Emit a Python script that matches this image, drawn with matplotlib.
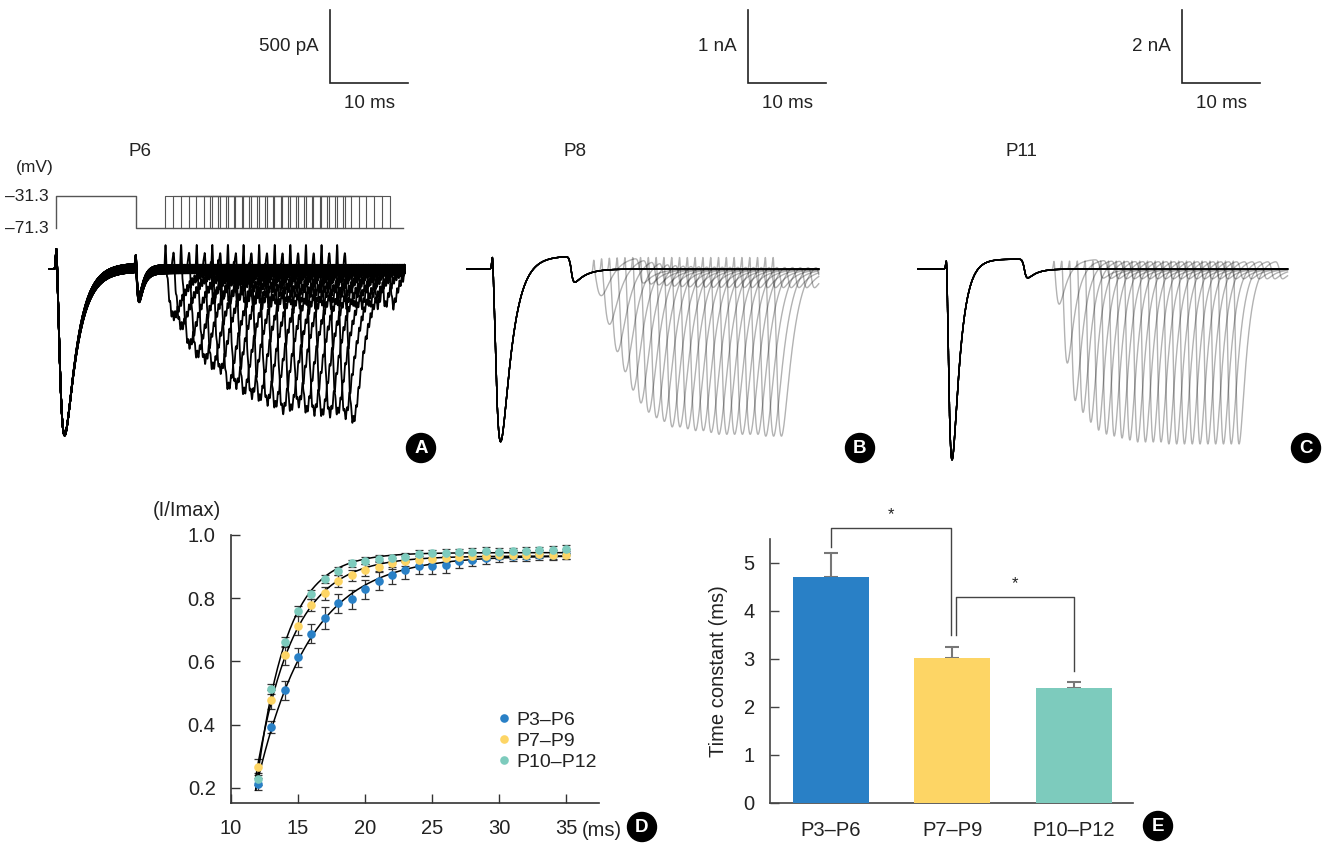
import numpy as np
import matplotlib
matplotlib.use("Agg")
import matplotlib.pyplot as plt
from matplotlib.patches import Circle
from matplotlib.lines import Line2D

plt.rcParams['font.family'] = ['Liberation Sans', 'DejaVu Sans']

# ---------------- data ----------------
ages = ['P3–P6', 'P7–P9', 'P10–P12']
age_colors = ['#2980C6', '#FDD565', '#7DCBBD']

# panel D: recovery (I/Imax) vs interval
intervals = [12, 13, 14, 15, 16, 17, 18, 19, 20, 21, 22, 23,
             24, 25, 26, 27, 28, 29, 30, 31, 32, 33, 34, 35]
rec_p3p6 = [0.212, 0.393, 0.509, 0.613, 0.687, 0.738, 0.784, 0.797, 0.829, 0.855, 0.872, 0.889,
            0.901, 0.901, 0.905, 0.918, 0.922, 0.928, 0.932, 0.935, 0.935, 0.937, 0.938, 0.940]
rec_p7p9 = [0.267, 0.478, 0.619, 0.713, 0.779, 0.815, 0.855, 0.872, 0.889, 0.900, 0.910, 0.918,
            0.920, 0.925, 0.928, 0.930, 0.932, 0.935, 0.937, 0.938, 0.938, 0.939, 0.938, 0.936]
rec_p10p12 = [0.228, 0.512, 0.662, 0.759, 0.812, 0.861, 0.887, 0.910, 0.919, 0.925, 0.926, 0.931,
              0.939, 0.942, 0.944, 0.945, 0.946, 0.949, 0.946, 0.948, 0.949, 0.951, 0.954, 0.955]
err_p3p6 = [0.020, 0.020, 0.030, 0.030, 0.030, 0.035, 0.030, 0.030, 0.030, 0.030, 0.027, 0.027,
            0.025, 0.025, 0.025, 0.022, 0.020, 0.020, 0.018, 0.017, 0.017, 0.016, 0.016, 0.016]
err_p7p9 = [0.025, 0.030, 0.030, 0.030, 0.020, 0.020, 0.018, 0.018, 0.018, 0.017, 0.016, 0.016,
            0.015, 0.015, 0.015, 0.014, 0.014, 0.014, 0.013, 0.013, 0.013, 0.013, 0.013, 0.013]
err_p10p12 = [0.020, 0.015, 0.015, 0.015, 0.015, 0.012, 0.012, 0.012, 0.012, 0.012, 0.012, 0.012,
              0.012, 0.012, 0.012, 0.012, 0.012, 0.012, 0.012, 0.012, 0.012, 0.012, 0.012, 0.012]

# panel E: time constants
tau_mean = [4.69, 3.01, 2.39]
tau_sem = [0.50, 0.23, 0.12]
sig_pairs = [(0, 1), (1, 2)]

# panels A-C: traces
trace_titles = ['P6', 'P8', 'P11']
first_peak_pA = [1150, 2530, 5420]
scale_pA = [500, 1000, 2000]
scale_labels = ['500 pA', '1 nA', '2 nA']
scale_ms = 10
protocol_mV = [-71.3, -31.3]
# second-response amplitude relative to first response, one per sweep (24 sweeps, 1-ms steps)
second_A = [0.29, 0.35, 0.46, 0.52, 0.55, 0.59, 0.61, 0.71, 0.70, 0.74, 0.76, 0.78,
            0.80, 0.82, 0.85, 0.84, 0.81, 0.85, 0.86, 0.87, 0.87, 0.86, 0.88, 0.91]
second_B = [0.20, 0.36, 0.51, 0.62, 0.72, 0.79, 0.84, 0.87, 0.89, 0.92, 0.92, 0.93,
            0.94, 0.94, 0.95, 0.96, 0.96, 0.96, 0.96, 0.96, 0.96, 0.97, 0.97, 0.97]
second_C = [0.21, 0.51, 0.70, 0.76, 0.81, 0.85, 0.87, 0.88, 0.89, 0.90, 0.91, 0.91,
            0.91, 0.91, 0.92, 0.92, 0.92, 0.92, 0.92, 0.92, 0.92, 0.92, 0.92, 0.92]

# ---------------- figure ----------------
W, H = 1328, 844
fig = plt.figure(figsize=(W / 100, H / 100), dpi=100)
TXT = '#222'


def px_axes(l, t, r, b, **kw):
    return fig.add_axes([l / W, 1 - b / H, (r - l) / W, (b - t) / H], **kw)


def kernel(s, tr, td):
    s = np.clip(s, 0, None)
    ss = np.linspace(0, 12 * td, 6000)
    pk = ((1 - np.exp(-ss / tr)) ** 3 * np.exp(-ss / td)).max()
    return (1 - np.exp(-s / tr)) ** 3 * np.exp(-s / td) / pk


def sig(x):
    return 1 / (1 + np.exp(-x))


MS_PX = 7.8
cfgs = [
    dict(l=30, r=440, on_px=56, base_px=269, tr=0.45, td=1.6, t0=-0.8, t1=44.7, p1=10.2,
         s2=14.0, w2=5.8, bump=0.12, plat=0.01, tail=0.17, tail_td=0.6, sb_px=330, title_px=140,
         fracs=second_A, alpha=1.0, lw=1.3, ripple=0.025),
    dict(l=450, r=890, on_px=492, base_px=269, tr=0.5, td=1.4, t0=-3.2, t1=41.9, p1=10.0,
         s2=13.0, w2=5.8, bump=0.06, plat=0.07, tail=0.07, tail_td=1.5, sb_px=748, title_px=575,
         fracs=second_B, alpha=0.3, lw=1.0, ripple=0.0),
    dict(l=900, r=1325, on_px=946, base_px=269, tr=0.35, td=1.0, t0=-3.6, t1=43.8, p1=9.9,
         s2=13.8, w2=5.8, bump=0.04, plat=0.05, tail=0.045, tail_td=1.2, sb_px=1182,
         title_px=1021, fracs=second_C, alpha=0.3, lw=1.0, ripple=0.0),
]

for i, c in enumerate(cfgs):
    pa_px = scale_pA[i] / 73.0
    ax = px_axes(c['l'], 0, c['r'], 480)
    ax.set_xlim((c['l'] - c['on_px']) / MS_PX, (c['r'] - c['on_px']) / MS_PX)
    ax.set_ylim(-(480 - c['base_px']) * pa_px, c['base_px'] * pa_px)
    ax.axis('off')
    t = np.arange(c['t0'], c['t1'], 0.01)
    for k, frac in enumerate(c['fracs']):
        pulses = [(0.0, c['p1'], 1.0), (c['s2'] + k, c['s2'] + k + c['w2'], frac)]
        y = np.zeros_like(t)
        for on, off, a in pulses:
            y += -a * kernel(t - on, c['tr'], c['td'])
            y += c['bump'] * np.exp(-((t - on - 0.05) / 0.12) ** 2)
            y += c['plat'] * sig((t - on - 0.6) / 0.2) * (1 - sig((t - off) / 0.1))
            y += -c['tail'] * kernel(t - off, 0.2, c['tail_td'])
            if i == 0:
                y += 0.06 * np.exp(-((t - off - 0.03) / 0.1) ** 2)
        if c['ripple'] > 0:
            # recording-noise texture of the P6 traces
            y += c['ripple'] * np.sin(2 * np.pi * t / 0.31 + 1.7 * k) * sig((t - 2.5) / 0.5)
        ax.plot(t, y * first_peak_pA[i], color='k', alpha=c['alpha'], lw=c['lw'],
                solid_joinstyle='round')
    # scale bar
    tsb = (c['sb_px'] - c['on_px']) / MS_PX
    isb = (c['base_px'] - 83) * pa_px
    ax.plot([tsb, tsb, tsb + scale_ms], [isb + scale_pA[i], isb, isb], color='#222', lw=1.2,
            clip_on=False, solid_joinstyle='miter')
    ax.text(tsb - 11 / MS_PX, isb + scale_pA[i] / 2, scale_labels[i], ha='right', va='center',
            fontsize=13.5, color=TXT)
    ax.text(tsb + scale_ms / 2, isb - 20 * pa_px, '%d ms' % scale_ms, ha='center', va='center',
            fontsize=13.5, color=TXT)
    ax.text((c['title_px'] - c['on_px']) / MS_PX, (c['base_px'] - 151) * pa_px, trace_titles[i],
            ha='center', va='center', fontsize=13.5, color=TXT)

    if i == 0:
        # voltage protocol
        axp = px_axes(c['l'], 185, c['r'], 235)
        axp.set_xlim((c['l'] - c['on_px']) / MS_PX, (c['r'] - c['on_px']) / MS_PX)
        mv_px = (protocol_mV[1] - protocol_mV[0]) / 32.0
        axp.set_ylim(protocol_mV[0] - 7 * mv_px, protocol_mV[1] + 11 * mv_px)
        axp.axis('off')
        hold, step = protocol_mV
        t_end = (403 - c['on_px']) / MS_PX
        axp.plot([0, 0, c['p1'], c['p1'], t_end], [hold, step, step, hold, hold],
                 color='#555', lw=1.0)
        for k in range(len(c['fracs'])):
            on2 = c['s2'] + k
            off2 = on2 + c['w2']
            axp.plot([on2, on2, off2, off2], [hold, step, step, hold], color='#555', lw=0.8)
        xl = (49 - c['on_px']) / MS_PX
        axp.text(xl, step, '–31.3', ha='right', va='center', fontsize=12.5, color=TXT)
        axp.text(xl, hold, '–71.3', ha='right', va='center', fontsize=12.5, color=TXT)
        axp.text((35 - c['on_px']) / MS_PX, step + 29 * mv_px, '(mV)', ha='center', va='center',
                 fontsize=12.5, color=TXT, clip_on=False)

# ---------------- panel D ----------------
axD = px_axes(231, 535, 599, 802.7)
axD.set_xlim(10, 37.44)
axD.set_ylim(0.153, 1.0)
xs = np.array(intervals, dtype=float)
groups = [(rec_p3p6, err_p3p6), (rec_p7p9, err_p7p9), (rec_p10p12, err_p10p12)]
tt = np.linspace(11.85, 35, 300)
taus = np.linspace(0.5, 10, 300)[:, None, None]
t0s = np.linspace(6, 11.9, 200)[None, :, None]
handles = []
for (vals, errs), col, lab in zip(groups, age_colors, ages):
    v = np.array(vals)
    b = 1 - np.exp(-(xs[None, None, :] - t0s) / taus)
    amp = (b * v).sum(-1) / (b * b).sum(-1)
    sse = ((amp[..., None] * b - v) ** 2).sum(-1)
    ii, jj = np.unravel_index(np.argmin(sse), sse.shape)
    tau_f, t0_f, a_f = taus[ii, 0, 0], t0s[0, jj, 0], amp[ii, jj]
    axD.errorbar(xs, v, yerr=errs, fmt='none', ecolor='#333', elinewidth=0.9, capsize=3,
                 capthick=0.9, zorder=2)
    axD.plot(tt, a_f * (1 - np.exp(-(tt - t0_f) / tau_f)), color='k', lw=1.1, zorder=3)
    axD.plot(xs, v, 'o', color=col, ms=6.2, mec='none', zorder=4)
    handles.append(Line2D([], [], marker='o', ls='none', color=col, ms=6.2, mec='none'))

for s in ['top', 'right']:
    axD.spines[s].set_visible(False)
for s in ['left', 'bottom']:
    axD.spines[s].set_color('#333')
    axD.spines[s].set_linewidth(1.2)
axD.set_xticks([10, 15, 20, 25, 30, 35])
axD.set_yticks([0.2, 0.4, 0.6, 0.8, 1.0])
axD.set_yticklabels(['0.2', '0.4', '0.6', '0.8', '1.0'])
axD.tick_params(axis='x', direction='in', length=6.5, width=1, color='#333', pad=12,
                labelsize=14.5, labelcolor=TXT)
axD.tick_params(axis='y', direction='in', length=6.5, width=1, color='#333', pad=11,
                labelsize=14.5, labelcolor=TXT)
axD.text((582 - 231) / 368, -0.103, '(ms)', transform=axD.transAxes, ha='left', va='center',
         fontsize=14.5, color=TXT)
axD.text(-0.12, 1.09, '(I/Imax)', transform=axD.transAxes, ha='center', va='center',
         fontsize=14.5, color=TXT)
axD.legend(handles, ages, loc='upper left', bbox_to_anchor=(0.69, 0.37), frameon=False,
           fontsize=14, handletextpad=0.0, labelspacing=0.18, handlelength=1.2,
           borderaxespad=0, labelcolor=TXT)

# ---------------- panel E ----------------
axE = px_axes(770, 539, 1133, 802.7)
xb = np.arange(len(ages))
axE.set_xlim(-0.502, 2.486)
axE.set_ylim(0, 5.49)
axE.errorbar(xb, tau_mean, yerr=[np.zeros(3), tau_sem], fmt='none', ecolor='#777',
             elinewidth=1.5, capsize=5, capthick=1.5, zorder=2)
axE.bar(xb, tau_mean, width=0.626, color=age_colors, zorder=3)
for s in ['top', 'right']:
    axE.spines[s].set_visible(False)
for s in ['left', 'bottom']:
    axE.spines[s].set_color('#444')
    axE.spines[s].set_linewidth(1.2)
axE.set_yticks([0, 1, 2, 3, 4, 5])
axE.set_xticks(xb)
axE.set_xticklabels(ages)
axE.tick_params(axis='y', direction='in', length=6.5, width=1, color='#444', pad=11,
                labelsize=14.5, labelcolor=TXT)
axE.tick_params(axis='x', length=0, pad=13, labelsize=14.5, labelcolor=TXT)
axE.set_ylabel('Time constant (ms)', fontsize=14.5, color=TXT, labelpad=11)

# significance brackets
br_tops = [5.72, 4.28]
for (a, b), top in zip(sig_pairs, br_tops):
    ya = tau_mean[a] + tau_sem[a] + (0.14 if a == 0 else 0.25)
    yb = tau_mean[b] + tau_sem[b] + (0.25 if b == 1 else 0.23)
    xa = a + (0.03 if a == 1 else 0.0)
    xbb = b - (0.01 if b == 1 else 0.0)
    axE.plot([xa, xa, xbb, xbb], [ya, top, top, yb], color='#444', lw=1.0, clip_on=False)
    axE.text((xa + xbb) / 2, top + 0.12, '*', ha='center', va='bottom', fontsize=12,
             color=TXT)

# ---------------- overlay: panel letters ----------------
ov = fig.add_axes([0, 0, 1, 1])
ov.set_xlim(0, W)
ov.set_ylim(H, 0)
ov.axis('off')
ov.patch.set_alpha(0)
for letter, (x, y) in zip('ABCDE', [(421, 448), (860, 448), (1306, 448), (642, 827),
                                    (1158, 826)]):
    ov.add_patch(Circle((x, y), 14.5, color='k'))
    ov.text(x, y + 0.5, letter, color='white', fontweight='bold', fontsize=13.5, ha='center',
            va='center')

fig.savefig('out.png', dpi=100)
